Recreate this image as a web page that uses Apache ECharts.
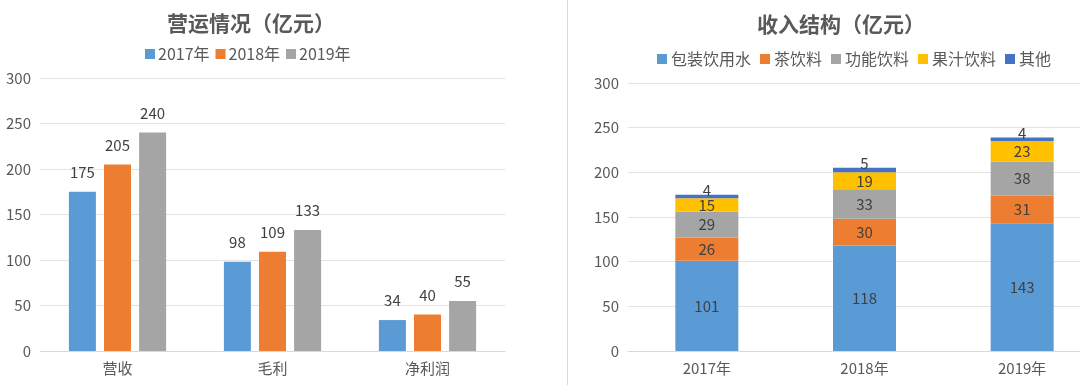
<!DOCTYPE html>
<html>
<head>
<meta charset="utf-8">
<script src="https://cdn.jsdelivr.net/npm/echarts@6/dist/echarts.min.js"></script>
<style>
  html, body { margin: 0; padding: 0; background: #fff; }
  #chart { width: 1080px; height: 385px; }
</style>
</head>
<body>
<div id="chart"></div>
<script>
  // 左图：营运情况
  var opCategories = ['营收', '毛利', '净利润'];
  var years = ['2017年', '2018年', '2019年'];
  var op2017 = [175, 98, 34];
  var op2018 = [205, 109, 40];
  var op2019 = [240, 133, 55];

  // 右图：收入结构
  var mixNames = ['包装饮用水', '茶饮料', '功能饮料', '果汁饮料', '其他'];
  var water = [101, 118, 143];
  var tea = [26, 30, 31];
  var energy = [29, 33, 38];
  var juice = [15, 19, 23];
  var other = [4, 5, 4];

  var yTicks = { min: 0, max: 300, interval: 50 };

  var colors = ['#5B9BD5', '#ED7D31', '#A5A5A5', '#FFC000', '#4472C4'];
  var fontCJK = '"Noto Sans CJK SC", sans-serif';
  var textGray = '#595959';
  var labelDark = '#404040';

  var myChart = echarts.init(document.getElementById('chart'));

  function yAxis(gridIndex) {
    return {
      gridIndex: gridIndex,
      type: 'value',
      min: yTicks.min,
      max: yTicks.max,
      interval: yTicks.interval,
      axisLine: { show: false },
      axisTick: { show: false },
      axisLabel: { color: textGray, fontSize: 15, fontFamily: fontCJK, margin: 9 },
      splitLine: { lineStyle: { color: '#E3E3E3', width: 1 } }
    };
  }

  function xAxis(gridIndex, data) {
    return {
      gridIndex: gridIndex,
      type: 'category',
      data: data,
      axisLine: { lineStyle: { color: '#D9D9D9' } },
      axisTick: { show: false },
      axisLabel: { color: textGray, fontSize: 15, fontFamily: fontCJK, margin: 10 }
    };
  }

  var opSeries = [op2017, op2018, op2019].map(function (d, i) {
    return {
      name: years[i],
      type: 'bar',
      xAxisIndex: 0,
      yAxisIndex: 0,
      data: d,
      barWidth: 27,
      barGap: '30%',
      itemStyle: { color: colors[i] },
      label: {
        show: true,
        position: 'top',
        distance: 12,
        color: labelDark,
        fontSize: 15,
        fontFamily: fontCJK
      }
    };
  });

  var mixSeries = [water, tea, energy, juice, other].map(function (d, i) {
    return {
      name: mixNames[i],
      type: 'bar',
      stack: 'mix',
      xAxisIndex: 1,
      yAxisIndex: 1,
      data: d,
      barWidth: 63,
      itemStyle: { color: colors[i] },
      label: {
        show: true,
        position: i === 4 ? 'top' : 'inside',
        distance: -3,
        color: labelDark,
        fontSize: 15,
        fontFamily: fontCJK
      }
    };
  });

  var option = {
    animation: false,
    backgroundColor: '#fff',
    title: [{
      text: '营运情况（亿元）',
      left: 246,
      top: 8,
      textAlign: 'center',
      textStyle: { color: textGray, fontSize: 21, fontWeight: 'bold', fontFamily: fontCJK }
    }, {
      text: '收入结构（亿元）',
      left: 836,
      top: 9,
      textAlign: 'center',
      textStyle: { color: textGray, fontSize: 21, fontWeight: 'bold', fontFamily: fontCJK }
    }],
    legend: [{
      data: years,
      left: 140,
      top: 41,
      itemWidth: 10,
      itemHeight: 10,
      itemGap: 6,
      icon: 'rect',
      textStyle: { color: textGray, fontSize: 16, fontFamily: fontCJK, padding: [0, 0, 0, -2] }
    }, {
      data: mixNames,
      left: 652,
      top: 46,
      itemWidth: 10,
      itemHeight: 10,
      itemGap: 9,
      icon: 'rect',
      textStyle: { color: textGray, fontSize: 16, fontFamily: fontCJK, padding: [0, 0, 0, -1] }
    }],
    grid: [{
      left: 40, width: 465, top: 78, height: 273, outerBoundsMode: 'none'
    }, {
      left: 628, width: 473, top: 83, height: 268, outerBoundsMode: 'none'
    }],
    xAxis: [xAxis(0, opCategories), xAxis(1, years)],
    yAxis: [yAxis(0), yAxis(1)],
    graphic: [{
      type: 'line',
      shape: { x1: 567.5, y1: 0, x2: 567.5, y2: 385 },
      style: { stroke: '#D9D9D9', lineWidth: 1 }
    }],
    series: opSeries.concat(mixSeries)
  };

  myChart.setOption(option);
</script>
</body>
</html>
